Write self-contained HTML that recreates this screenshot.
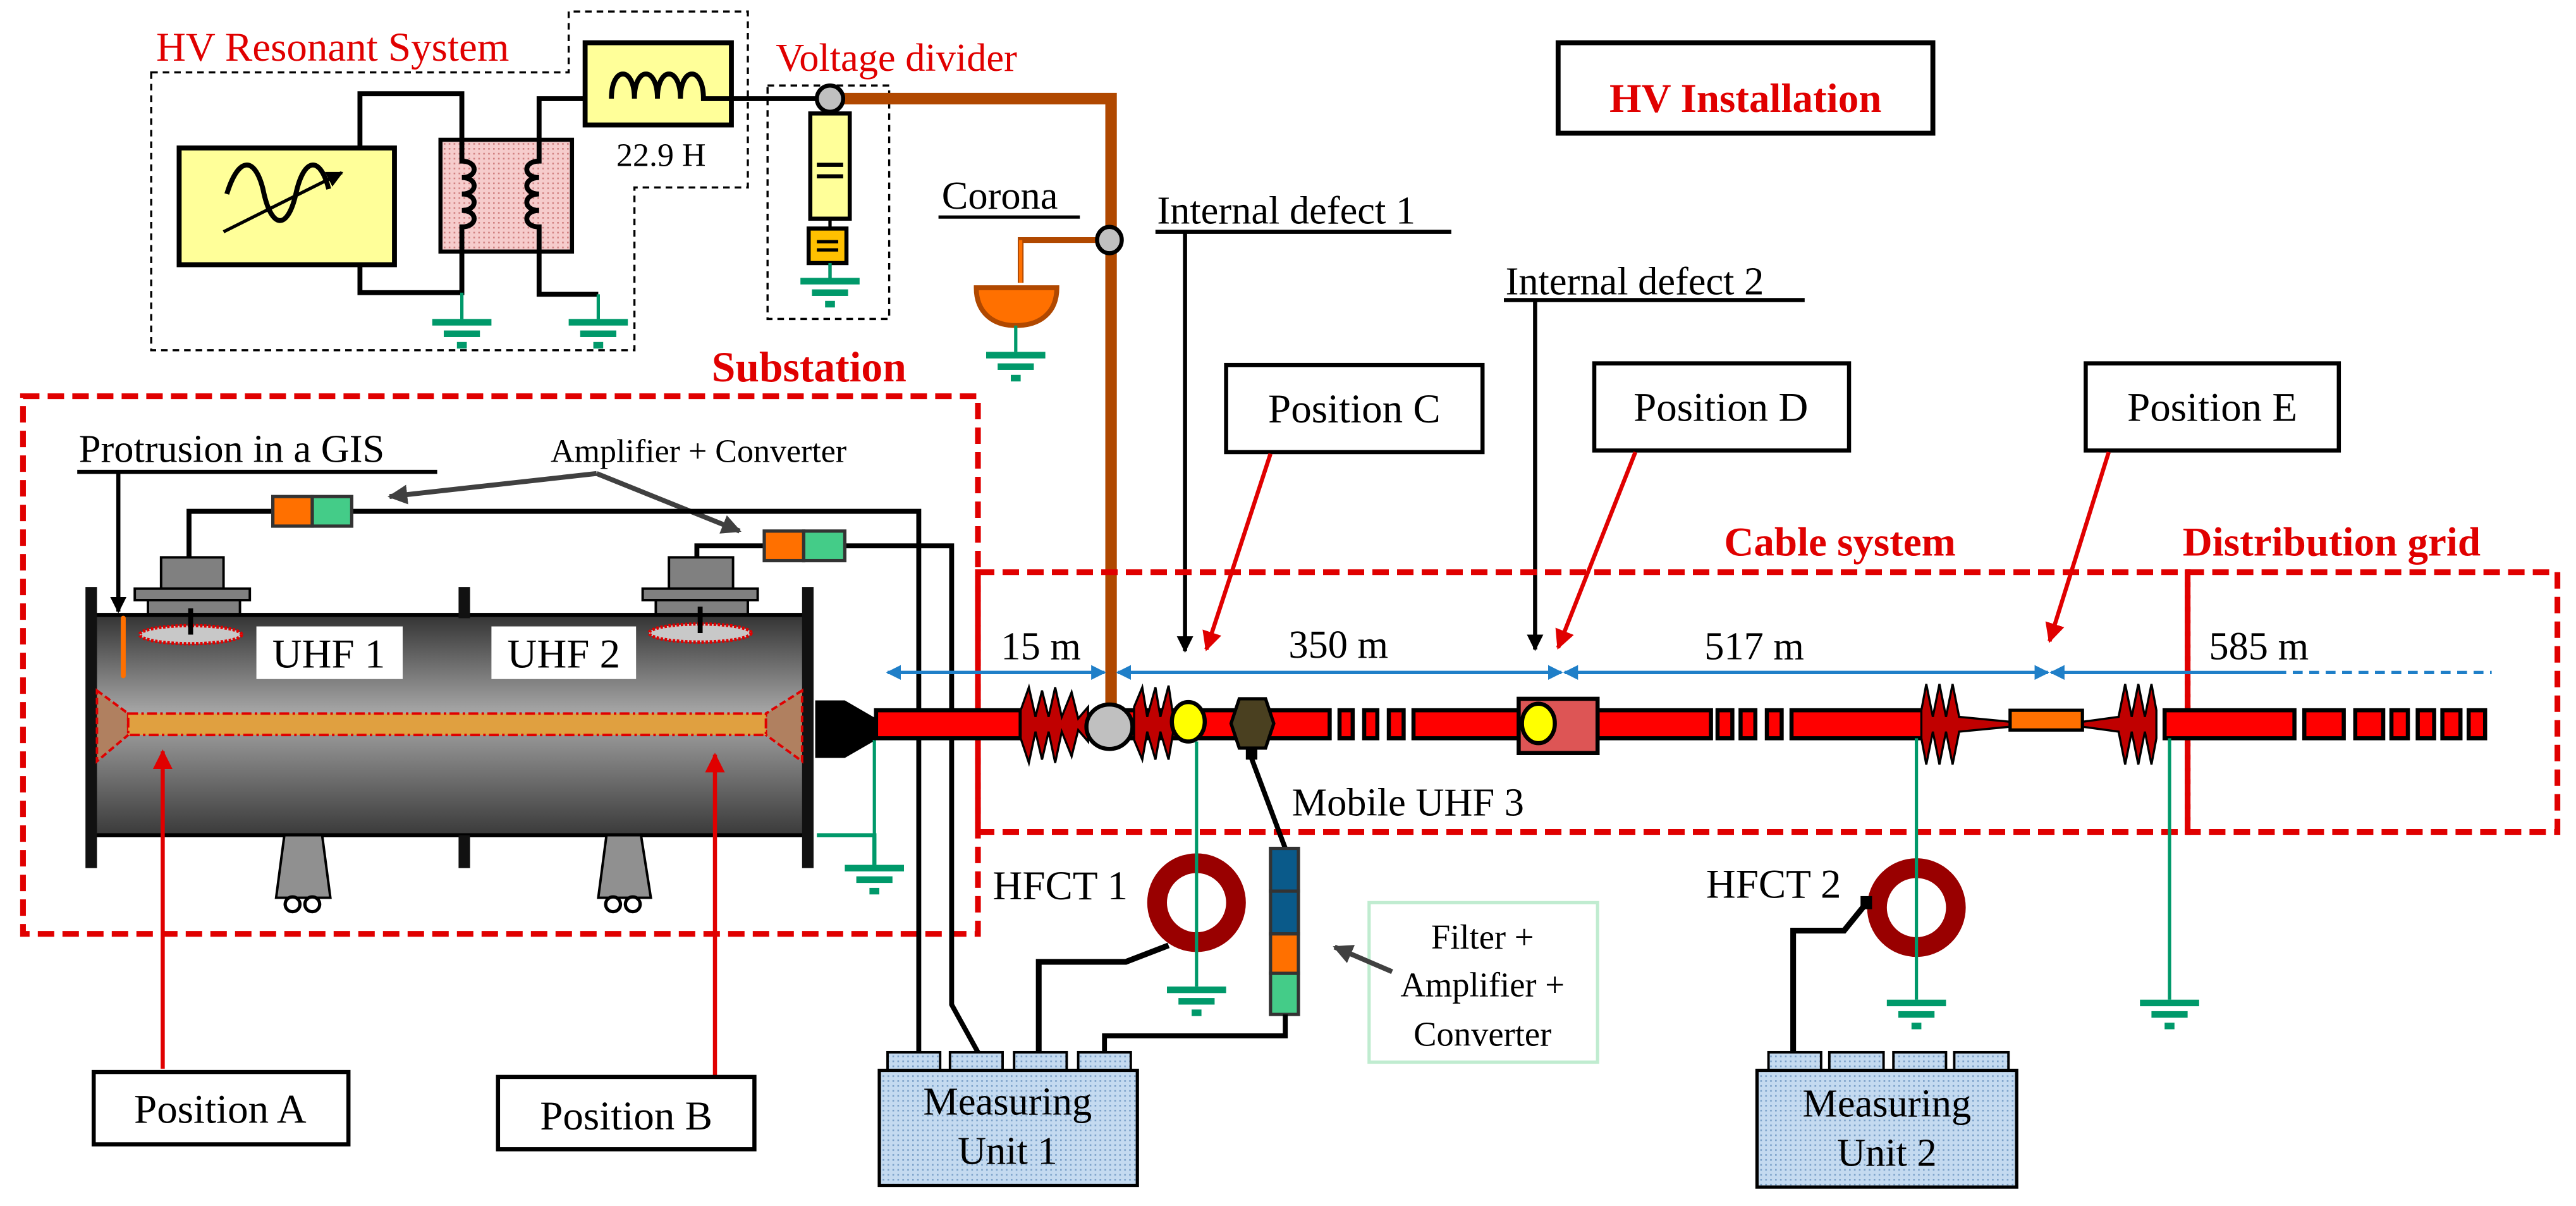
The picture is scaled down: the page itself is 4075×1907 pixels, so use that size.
<!DOCTYPE html>
<html><head><meta charset="utf-8"><style>
html,body{margin:0;padding:0;background:#fff;}
svg{display:block;}
svg text{font-family:"Liberation Serif","Times New Roman","DejaVu Serif",serif;}
</style></head><body>
<svg width="4075" height="1907" viewBox="0 0 1567.3 733.5" preserveAspectRatio="none" xmlns="http://www.w3.org/2000/svg" font-family="'Liberation Serif', 'DejaVu Serif', serif">
<defs>
<g id="gnd"><rect x="-18" y="0" width="36" height="4" fill="#00996a"/><rect x="-11" y="7" width="22" height="4" fill="#00996a"/><rect x="-3" y="14" width="6" height="4" fill="#00996a"/></g>
<linearGradient id="gis" x1="0" y1="0" x2="0" y2="1"><stop offset="0" stop-color="#333"/><stop offset="0.45" stop-color="#a8a8a8"/><stop offset="1" stop-color="#3a3a3a"/></linearGradient>
<pattern id="pink" width="3" height="3" patternUnits="userSpaceOnUse"><rect width="3" height="3" fill="#f6cccc"/><rect width="1" height="1" fill="#d08080"/></pattern>
<pattern id="blue" width="3" height="3" patternUnits="userSpaceOnUse"><rect width="3" height="3" fill="#c4daf0"/><rect width="1" height="1" fill="#7aa0c8"/></pattern>
<marker id="ar" viewBox="0 0 10 10" markerWidth="12" markerHeight="14" refX="9" refY="5" orient="auto" markerUnits="userSpaceOnUse"><path d="M0,0 L10,5 L0,10 z" fill="#e00000"/></marker>
<marker id="ag" viewBox="0 0 10 10" markerWidth="12" markerHeight="12" refX="9" refY="5" orient="auto" markerUnits="userSpaceOnUse"><path d="M0,0 L10,5 L0,10 z" fill="#404040"/></marker>
<marker id="abl" viewBox="0 0 10 10" markerWidth="9" markerHeight="9" refX="9" refY="5" orient="auto" markerUnits="userSpaceOnUse"><path d="M0,0 L10,5 L0,10 z" fill="#1f7fc8"/></marker>
<marker id="abk" viewBox="0 0 10 10" markerWidth="10" markerHeight="12" refX="9" refY="5" orient="auto" markerUnits="userSpaceOnUse"><path d="M0,0 L10,5 L0,10 z" fill="#000"/></marker>
</defs>

<!-- HV resonant system -->
<text x="95" y="37" font-size="25" fill="#e00000">HV Resonant System</text>
<path d="M92,44 H346 V7 H455 V114 H386 V213 H92 Z" fill="none" stroke="#000" stroke-width="1.3" stroke-dasharray="4,3"/>
<rect x="109" y="90" width="131" height="71" fill="#ffff99" stroke="#000" stroke-width="3"/>
<path d="M138,118 C145,95 155,95 160,115 C165,140 175,140 180,118 C185,95 195,95 200,115" fill="none" stroke="#000" stroke-width="3"/>
<line x1="136" y1="141" x2="208" y2="105" stroke="#000" stroke-width="2" marker-end="url(#abk)"/>
<polyline points="219,90 219,57 281,57 281,85" fill="none" stroke="#000" stroke-width="3"/>
<polyline points="219,161 219,178 281,178 281,153" fill="none" stroke="#000" stroke-width="3"/>
<rect x="268" y="85" width="80" height="68" fill="url(#pink)" stroke="#000" stroke-width="2.5"/>
<path d="M281,85 V98 c10,0 10,10 0,10 c10,0 10,10 0,10 c10,0 10,10 0,10 c10,0 10,10 0,10 V153" fill="none" stroke="#000" stroke-width="3"/>
<path d="M328,85 V98 c-10,0 -10,10 0,10 c-10,0 -10,10 0,10 c-10,0 -10,10 0,10 c-10,0 -10,10 0,10 V179 H364" fill="none" stroke="#000" stroke-width="3"/>
<line x1="281" y1="178" x2="281" y2="194" stroke="#00996a" stroke-width="2"/>
<use href="#gnd" x="281" y="194"/>
<line x1="364" y1="179" x2="364" y2="194" stroke="#00996a" stroke-width="2"/>
<use href="#gnd" x="364" y="194"/>
<polyline points="328,85 328,60 372,60" fill="none" stroke="#000" stroke-width="3"/>
<rect x="356" y="26" width="89" height="50" fill="#ffff99" stroke="#000" stroke-width="3"/>
<path d="M372,60 c0,-20 14,-20 14,0 c0,-20 14,-20 14,0 c0,-20 14,-20 14,0 c0,-20 14,-20 14,0 H498" fill="none" stroke="#000" stroke-width="3"/>
<text x="375" y="101" font-size="20">22.9 H</text>

<!-- Voltage divider -->
<text x="472" y="43" font-size="24" fill="#e00000">Voltage divider</text>
<rect x="467" y="52" width="74" height="142" fill="none" stroke="#000" stroke-width="1.3" stroke-dasharray="4,3"/>
<polyline points="505,60 676,60 676,438" fill="none" stroke="#b04800" stroke-width="7"/>
<line x1="505" y1="60" x2="505" y2="170" stroke="#000" stroke-width="2"/>
<rect x="493" y="69" width="24" height="64" fill="#ffff99" stroke="#000" stroke-width="2.5"/>
<rect x="497" y="99" width="16" height="2.5" fill="#000"/><rect x="497" y="106" width="16" height="2.5" fill="#000"/>
<rect x="492" y="139" width="23" height="21" fill="#ffc000" stroke="#000" stroke-width="2.5"/>
<rect x="497" y="146" width="13" height="2" fill="#000"/><rect x="497" y="151" width="13" height="2" fill="#000"/>
<line x1="505" y1="160" x2="505" y2="169" stroke="#00996a" stroke-width="2"/>
<use href="#gnd" x="505" y="169"/>
<ellipse cx="505" cy="60" rx="8" ry="8" fill="#c0c0c0" stroke="#000" stroke-width="2.5"/>

<!-- Corona -->
<text x="573" y="127" font-size="24">Corona</text>
<line x1="571" y1="132" x2="657" y2="132" stroke="#000" stroke-width="2"/>
<polyline points="674,146 621,146 621,172" fill="none" stroke="#b04800" stroke-width="3.5"/>
<line x1="621" y1="146" x2="621" y2="172" stroke="#ff7000" stroke-width="2"/>
<path d="M594,175 H643 C643,190 633,198 618,198 C604,198 594,190 594,175 Z" fill="#ff7000" stroke="#b04800" stroke-width="3"/>
<line x1="618" y1="198" x2="618" y2="214" stroke="#00996a" stroke-width="2"/>
<use href="#gnd" x="618" y="214"/>
<ellipse cx="675" cy="146" rx="7.5" ry="8" fill="#c0c0c0" stroke="#000" stroke-width="2.5"/>

<!-- Internal defects -->
<text x="704" y="136" font-size="24">Internal defect 1</text>
<line x1="703" y1="141" x2="883" y2="141" stroke="#000" stroke-width="2.5"/>
<line x1="721" y1="141" x2="721" y2="396" stroke="#000" stroke-width="2.5" marker-end="url(#abk)"/>
<text x="916" y="179" font-size="24">Internal defect 2</text>
<line x1="915" y1="182.5" x2="1098" y2="182.5" stroke="#000" stroke-width="2.5"/>
<line x1="934" y1="182" x2="934" y2="395" stroke="#000" stroke-width="2.5" marker-end="url(#abk)"/>

<!-- HV installation -->
<rect x="948" y="26" width="228" height="55" fill="none" stroke="#000" stroke-width="3"/>
<text x="1062" y="68" font-size="25" font-weight="bold" fill="#e00000" text-anchor="middle">HV Installation</text>

<!-- Position C D E -->
<rect x="746" y="222" width="156" height="53" fill="#fff" stroke="#000" stroke-width="2.5"/>
<text x="824" y="257" font-size="25" text-anchor="middle">Position C</text>
<rect x="970" y="221" width="155" height="53" fill="#fff" stroke="#000" stroke-width="2.5"/>
<text x="1047" y="256" font-size="25" text-anchor="middle">Position D</text>
<rect x="1269" y="221" width="154" height="53" fill="#fff" stroke="#000" stroke-width="2.5"/>
<text x="1346" y="256" font-size="25" text-anchor="middle">Position E</text>
<line x1="773" y1="276" x2="734" y2="395" stroke="#e00000" stroke-width="2.5" marker-end="url(#ar)"/>
<line x1="995" y1="275" x2="948" y2="394" stroke="#e00000" stroke-width="2.5" marker-end="url(#ar)"/>
<line x1="1283" y1="275" x2="1247" y2="390" stroke="#e00000" stroke-width="2.5" marker-end="url(#ar)"/>

<!-- Substation -->
<text x="433" y="232" font-size="26" font-weight="bold" fill="#e00000">Substation</text>
<rect x="14" y="241" width="581" height="327" fill="none" stroke="#e00000" stroke-width="3.5" stroke-dasharray="10,5"/>
<text x="1049" y="338" font-size="25" font-weight="bold" fill="#e00000">Cable system</text>
<text x="1328" y="338" font-size="25" font-weight="bold" fill="#e00000">Distribution grid</text>
<rect x="595" y="348" width="736" height="158" fill="none" stroke="#e00000" stroke-width="3.5" stroke-dasharray="10,5"/>
<rect x="1331" y="348" width="225" height="158" fill="none" stroke="#e00000" stroke-width="3.5" stroke-dasharray="10,5"/>

<text x="48" y="281" font-size="24">Protrusion in a GIS</text>
<line x1="47" y1="287" x2="266" y2="287" stroke="#000" stroke-width="2.5"/>
<line x1="72" y1="287" x2="72" y2="372" stroke="#000" stroke-width="2.5" marker-end="url(#abk)"/>
<text x="335" y="281" font-size="20">Amplifier + Converter</text>
<line x1="363" y1="288" x2="237" y2="302" stroke="#404040" stroke-width="3" marker-end="url(#ag)"/>
<line x1="363" y1="288" x2="450" y2="323" stroke="#404040" stroke-width="3" marker-end="url(#ag)"/>

<polyline points="115,340 115,311 559,311 559,640" fill="none" stroke="#000" stroke-width="3"/>
<polyline points="424,340 424,332 579,332 579,611 595,640" fill="none" stroke="#000" stroke-width="3"/>
<rect x="166" y="302" width="24" height="18" fill="#ff7000" stroke="#333" stroke-width="2"/>
<rect x="190" y="302" width="24" height="18" fill="#44cc88" stroke="#333" stroke-width="2"/>
<rect x="465" y="323" width="24" height="18" fill="#ff7000" stroke="#333" stroke-width="2"/>
<rect x="489" y="323" width="25" height="18" fill="#44cc88" stroke="#333" stroke-width="2"/>

<!-- GIS -->
<rect x="98" y="339" width="38" height="19" fill="#808080" stroke="#000" stroke-width="1.5"/>
<rect x="82" y="358" width="70" height="7" fill="#808080" stroke="#000" stroke-width="1.5"/>
<rect x="90" y="365" width="56" height="9" fill="#808080" stroke="#000" stroke-width="1.5"/>
<rect x="407" y="339" width="39" height="19" fill="#808080" stroke="#000" stroke-width="1.5"/>
<rect x="391" y="358" width="70" height="7" fill="#808080" stroke="#000" stroke-width="1.5"/>
<rect x="399" y="365" width="56" height="9" fill="#808080" stroke="#000" stroke-width="1.5"/>
<rect x="57" y="374" width="435" height="134" fill="url(#gis)" stroke="#000" stroke-width="2.5"/>
<rect x="52" y="357" width="7" height="171" fill="#111"/>
<rect x="279" y="357" width="7" height="19" fill="#111"/>
<rect x="279" y="508" width="7" height="20" fill="#111"/>
<rect x="488" y="357" width="7" height="171" fill="#111"/>
<ellipse cx="116" cy="386" rx="31" ry="5.5" fill="#c8c8c8" stroke="#e00000" stroke-width="2" stroke-dasharray="1.5,1"/>
<ellipse cx="426" cy="385" rx="31" ry="5.5" fill="#c8c8c8" stroke="#e00000" stroke-width="2" stroke-dasharray="1.5,1"/>
<line x1="116" y1="370" x2="116" y2="386" stroke="#000" stroke-width="3"/>
<line x1="426" y1="369" x2="426" y2="385" stroke="#000" stroke-width="3"/>
<rect x="156" y="381" width="89" height="32" fill="#fff"/>
<text x="200" y="406" font-size="25" text-anchor="middle">UHF 1</text>
<rect x="299" y="381" width="88" height="32" fill="#fff"/>
<text x="343" y="406" font-size="25" text-anchor="middle">UHF 2</text>
<line x1="75" y1="376" x2="75" y2="411" stroke="#ff7000" stroke-width="3" stroke-linecap="round"/>
<polygon points="59,420 78,434 78,447 59,463" fill="#b08060" stroke="#e00000" stroke-width="1.5" stroke-dasharray="4,2"/>
<polygon points="488,420 466,434 466,447 488,463" fill="#b08060" stroke="#e00000" stroke-width="1.5" stroke-dasharray="4,2"/>
<rect x="78" y="434" width="388" height="13" fill="#e0a040" stroke="#e00000" stroke-width="1.5" stroke-dasharray="6,2,1.5,2"/>
<line x1="99" y1="650" x2="99" y2="457" stroke="#e00000" stroke-width="2.5" marker-end="url(#ar)"/>
<line x1="435" y1="654" x2="435" y2="459" stroke="#e00000" stroke-width="2.5" marker-end="url(#ar)"/>
<polygon points="173,508 196,508 201,546 168,546" fill="#909090" stroke="#000" stroke-width="1.5"/>
<circle cx="178" cy="550" r="4.5" fill="#fff" stroke="#000" stroke-width="2"/><circle cx="190" cy="550" r="4.5" fill="#fff" stroke="#000" stroke-width="2"/>
<polygon points="369,508 390,508 396,546 364,546" fill="#909090" stroke="#000" stroke-width="1.5"/>
<circle cx="373" cy="550" r="4.5" fill="#fff" stroke="#000" stroke-width="2"/><circle cx="385" cy="550" r="4.5" fill="#fff" stroke="#000" stroke-width="2"/>
<polygon points="496,426 514,426 533,437 533,450 514,461 496,461" fill="#000"/>
<polyline points="497,508 532,508 532,526" fill="none" stroke="#00996a" stroke-width="2.5"/>
<line x1="532" y1="450" x2="532" y2="526" stroke="#00996a" stroke-width="2"/>
<use href="#gnd" x="532" y="526"/>

<rect x="57" y="652" width="155" height="44" fill="#fff" stroke="#000" stroke-width="2.5"/>
<text x="134" y="683" font-size="25" text-anchor="middle">Position A</text>
<rect x="303" y="655" width="156" height="44" fill="#fff" stroke="#000" stroke-width="2.5"/>
<text x="381" y="687" font-size="25" text-anchor="middle">Position B</text>

<!-- dimension -->
<line x1="672" y1="409" x2="540" y2="409" stroke="#1f7fc8" stroke-width="2" marker-end="url(#abl)"/>
<line x1="540" y1="409" x2="672" y2="409" stroke="#1f7fc8" stroke-width="2" marker-end="url(#abl)"/>
<line x1="950" y1="409" x2="680" y2="409" stroke="#1f7fc8" stroke-width="2" marker-end="url(#abl)"/>
<line x1="680" y1="409" x2="950" y2="409" stroke="#1f7fc8" stroke-width="2" marker-end="url(#abl)"/>
<line x1="1246" y1="409" x2="952" y2="409" stroke="#1f7fc8" stroke-width="2" marker-end="url(#abl)"/>
<line x1="952" y1="409" x2="1246" y2="409" stroke="#1f7fc8" stroke-width="2" marker-end="url(#abl)"/>
<line x1="1385" y1="409" x2="1248" y2="409" stroke="#1f7fc8" stroke-width="2" marker-end="url(#abl)"/>
<line x1="1385" y1="409" x2="1516" y2="409" stroke="#1f7fc8" stroke-width="2" stroke-dasharray="6,4"/>
<text x="609" y="401" font-size="24">15 m</text>
<text x="784" y="400" font-size="24">350 m</text>
<text x="1037" y="401" font-size="24">517 m</text>
<text x="1344" y="401" font-size="24">585 m</text>

<!-- cable -->
<g stroke="#000" stroke-width="2.5" fill="#ff0000">
<rect x="533" y="432" width="88" height="17"/>
<rect x="680" y="432" width="129" height="17"/>
<rect x="815" y="432" width="8" height="17"/><rect x="830" y="432" width="8" height="17"/><rect x="845" y="432" width="9" height="17"/>
<rect x="860" y="432" width="66" height="17"/>
<rect x="972" y="432" width="69" height="17"/>
<rect x="1045" y="432" width="9" height="17"/><rect x="1059" y="432" width="9" height="17"/><rect x="1075" y="432" width="9" height="17"/>
<rect x="1090" y="432" width="80" height="17"/>
<rect x="1317" y="432" width="79" height="17"/>
<rect x="1402" y="432" width="24" height="17"/><rect x="1433" y="432" width="17" height="17"/><rect x="1455" y="432" width="10" height="17"/><rect x="1471" y="432" width="10" height="17"/><rect x="1486" y="432" width="11" height="17"/><rect x="1502" y="432" width="10" height="17"/>
</g>
<g fill="#c00000" stroke="#000" stroke-width="1.3">
<polygon points="621,432 626,418 630,436 634,420 638,436 642,418 646,436 652,421 656,437 662,430 662,451 656,444 652,460 646,445 642,464 638,445 634,462 630,445 626,464 621,449"/>
<polygon points="690,430 695,418 698,436 703,418 706,436 711,417 714,437 714,444 711,462 706,445 703,462 698,445 695,462 690,450"/>
<polygon points="1169,432 1172,416 1176,436 1180,416 1184,436 1188,416 1192,436 1223,439 1223,442 1192,445 1188,465 1184,445 1180,465 1176,445 1172,465 1169,449"/>
<polygon points="1312,432 1309,416 1305,436 1301,416 1297,436 1293,416 1289,436 1267,439 1267,442 1289,445 1293,465 1297,445 1301,465 1305,445 1309,465 1312,449"/>
</g>
<rect x="1223" y="432" width="44" height="12" fill="#ff7000" stroke="#000" stroke-width="2"/>
<rect x="924" y="425" width="48" height="33" fill="#dd5555" stroke="#000" stroke-width="2.5"/>
<ellipse cx="936" cy="440" rx="10" ry="12" fill="#ffff00" stroke="#000" stroke-width="2.5"/>
<ellipse cx="675" cy="442" rx="14" ry="13.5" fill="#c0c0c0" stroke="#000" stroke-width="2.5"/>
<ellipse cx="723" cy="439" rx="10" ry="12" fill="#ffff00" stroke="#000" stroke-width="2.5"/>
<polygon points="754,425 770,425 775,440 770,455 754,455 749,440" fill="#4a4020" stroke="#000" stroke-width="2"/>
<rect x="758" y="455" width="7" height="7" fill="#000"/>
<line x1="761" y1="460" x2="782" y2="516" stroke="#000" stroke-width="3"/>
<text x="786" y="496" font-size="24">Mobile UHF 3</text>

<!-- HFCT1 -->
<ellipse cx="728" cy="549" rx="24" ry="24" fill="none" stroke="#990000" stroke-width="12"/>
<line x1="728" y1="451" x2="728" y2="600" stroke="#00996a" stroke-width="2"/>
<use href="#gnd" x="728" y="600"/>
<text x="604" y="547" font-size="25">HFCT 1</text>
<polyline points="711,575 685,585 632,585 632,640" fill="none" stroke="#000" stroke-width="3.5"/>
<rect x="773" y="516" width="17" height="26" fill="#0a5a8a" stroke="#333" stroke-width="2"/>
<rect x="773" y="542" width="17" height="26" fill="#0a5a8a" stroke="#333" stroke-width="2"/>
<rect x="773" y="568" width="17" height="24" fill="#ff7000" stroke="#333" stroke-width="2"/>
<rect x="773" y="592" width="17" height="25" fill="#44cc88" stroke="#333" stroke-width="2"/>
<polyline points="782,617 782,630 672,630 672,640" fill="none" stroke="#000" stroke-width="3"/>
<rect x="833" y="549" width="139" height="97" fill="#fff" stroke="#c0ecd0" stroke-width="2"/>
<text x="902" y="577" font-size="21" text-anchor="middle">Filter +</text>
<text x="902" y="606" font-size="21" text-anchor="middle">Amplifier +</text>
<text x="902" y="636" font-size="21" text-anchor="middle">Converter</text>
<line x1="847" y1="591" x2="812" y2="576" stroke="#404040" stroke-width="3" marker-end="url(#ag)"/>

<rect x="540" y="640" width="32" height="11" fill="url(#blue)" stroke="#000" stroke-width="1.5"/>
<rect x="578" y="640" width="32" height="11" fill="url(#blue)" stroke="#000" stroke-width="1.5"/>
<rect x="617" y="640" width="32" height="11" fill="url(#blue)" stroke="#000" stroke-width="1.5"/>
<rect x="656" y="640" width="32" height="11" fill="url(#blue)" stroke="#000" stroke-width="1.5"/>
<rect x="535" y="651" width="157" height="70" fill="url(#blue)" stroke="#000" stroke-width="2"/>
<text x="613" y="678" font-size="24" text-anchor="middle">Measuring</text>
<text x="613" y="708" font-size="24" text-anchor="middle">Unit 1</text>

<!-- HFCT2 -->
<ellipse cx="1166" cy="552" rx="24" ry="24" fill="none" stroke="#990000" stroke-width="12"/>
<line x1="1166" y1="449" x2="1166" y2="608" stroke="#00996a" stroke-width="2"/>
<use href="#gnd" x="1166" y="608"/>
<line x1="1320" y1="449" x2="1320" y2="608" stroke="#00996a" stroke-width="2"/>
<use href="#gnd" x="1320" y="608"/>
<text x="1038" y="546" font-size="25">HFCT 2</text>
<rect x="1132" y="545" width="7" height="8" fill="#000"/>
<polyline points="1135,550 1122,566 1091,566 1091,640" fill="none" stroke="#000" stroke-width="3.5"/>
<rect x="1076" y="640" width="32" height="11" fill="url(#blue)" stroke="#000" stroke-width="1.5"/>
<rect x="1113" y="640" width="33" height="11" fill="url(#blue)" stroke="#000" stroke-width="1.5"/>
<rect x="1152" y="640" width="32" height="11" fill="url(#blue)" stroke="#000" stroke-width="1.5"/>
<rect x="1189" y="640" width="33" height="11" fill="url(#blue)" stroke="#000" stroke-width="1.5"/>
<rect x="1069" y="651" width="158" height="71" fill="url(#blue)" stroke="#000" stroke-width="2"/>
<text x="1148" y="679" font-size="24" text-anchor="middle">Measuring</text>
<text x="1148" y="709" font-size="24" text-anchor="middle">Unit 2</text>
</svg>
</body></html>
